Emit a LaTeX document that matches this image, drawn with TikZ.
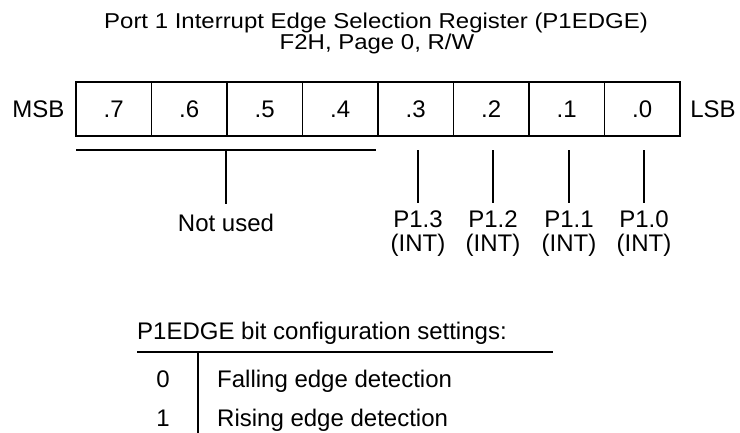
\documentclass[tikz,border=0pt]{standalone}
\usepackage{fontspec}
\usepackage{graphicx}
\setmainfont{Liberation Sans}
\begin{document}
\begin{tikzpicture}[x=1pt,y=-1pt,
  every node/.style={font=\fontsize{24}{28}\selectfont, inner sep=0pt},
  titletxt/.style={anchor=base, font=\fontsize{21.5}{24}\selectfont},
  cell/.style={draw, line width=1.8pt, minimum width=75.5pt, minimum height=54pt, anchor=center},
  txt/.style={anchor=base},
  ln/.style={line width=1.8pt}]
\useasboundingbox (0,0) rectangle (740,432);
% title
\node[titletxt] (t1) at (376,28.5) {\scalebox{1.115}[1]{Port 1 Interrupt Edge Selection Register (P1EDGE)}};
\node[titletxt] (t2) at (377,49.5) {\scalebox{1.115}[1]{F2H, Page 0, R/W}};
% register cells
\foreach \i/\lab in {0/.7,1/.6,2/.5,3/.4,4/.3,5/.2,6/.1,7/.0}{
  \node[cell] (c\i) at ({76+37.75+75.5*\i},109) {};
  \node[txt] (l\i) at ({76+37.75+75.5*\i},117.6) {\lab};
}
\node[txt] (msb) at (38.5,117.6) {MSB};
\node[txt] (lsb) at (713,117.6) {LSB};
% not used bracket
\coordinate (nl) at (76,150);
\coordinate (nr) at (376,150);
\coordinate (nm) at (226,150);
\coordinate (nb) at (226,204);
\draw[ln] (nl) -- (nr);
\draw[ln] (nm) -- (nb);
\node[txt] (nu) at (226,231) {Not used};
% bit lines
\foreach \i/\x/\n in {4/418/3,5/493/2,6/569/1,7/644/0}{
  \coordinate (bt\i) at (\x,150);
  \coordinate (bb\i) at (\x,203);
  \draw[ln] (bt\i) -- (bb\i);
  \node[txt] (p\i) at (\x,227) {P1.\n};
  \node[txt] (q\i) at (\x,251) {(INT)};
}
% table
\node[txt, anchor=base west] (th) at (137,339) {P1EDGE bit configuration settings:};
\coordinate (hl) at (137,352);
\coordinate (hr) at (553,352);
\draw[ln] (hl) -- (hr);
\coordinate (vt) at (198,352);
\coordinate (vb) at (198,433);
\draw[ln] (vt) -- (vb);
\node[txt] (v0) at (163,387) {0};
\node[txt] (v1) at (163,426) {1};
\node[txt, anchor=base west] (d0) at (217,387) {Falling edge detection};
\node[txt, anchor=base west] (d1) at (217,426) {Rising edge detection};
\end{tikzpicture}
\end{document}
